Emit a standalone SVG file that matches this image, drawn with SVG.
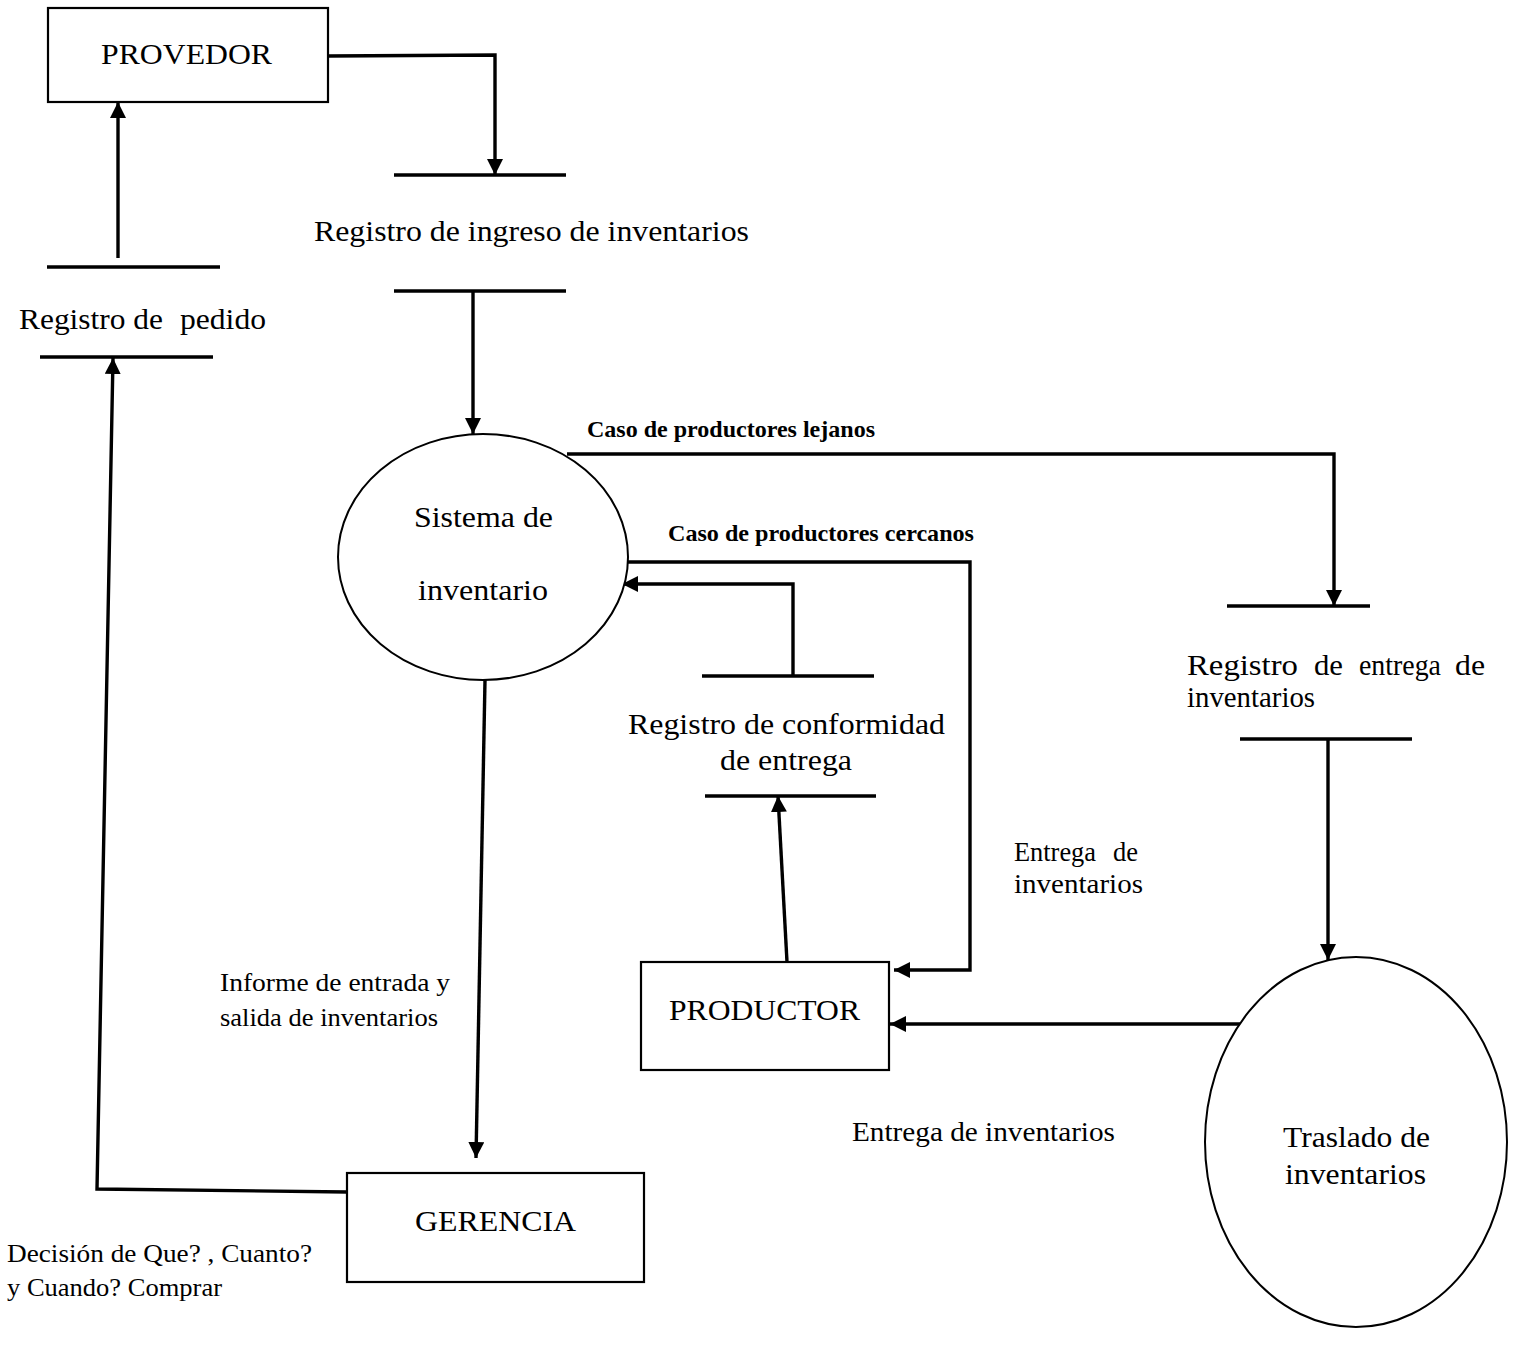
<svg xmlns="http://www.w3.org/2000/svg" width="1516" height="1357" viewBox="0 0 1516 1357">
  <style>
    .box { fill: #fff; stroke: #000; stroke-width: 2.2; }
    .proc { fill: #fff; stroke: #000; stroke-width: 2; }
    .store { stroke: #000; stroke-width: 3.6; fill: none; }
    .flow { stroke: #000; stroke-width: 3.4; fill: none; marker-end: url(#arrow); }
    .lbl { font-size: 29px; }
    .sm { font-size: 26px; }
    .md { font-size: 27px; }
    .bold { font-size: 24px; font-weight: bold; }
  </style>
  <defs>
    <marker id="arrow" markerUnits="userSpaceOnUse" markerWidth="18" markerHeight="18" refX="16" refY="8" orient="auto">
      <path d="M0,0 L16,8 L0,16 Z" fill="#000"/>
    </marker>
  </defs>
  <rect width="1516" height="1357" fill="#fff"/>

  <!-- data flows -->
  <g id="connectors">
    <path class="flow" d="M328,56 L495,55 L495,175"/>
    <path class="flow" d="M473,291 L473,434"/>
    <path class="flow" d="M567,454 L1334,454 L1334,606"/>
    <path class="flow" d="M1328,739 L1328,960"/>
    <path class="flow" d="M1243,1024 L890,1024"/>
    <path class="flow" d="M628,562 L970,562 L970,970 L894,970"/>
    <path class="flow" d="M793,676 L793,584 L622,584"/>
    <path class="flow" d="M787,962 L778,796"/>
    <path class="flow" d="M485,680 L476,1158"/>
    <path class="flow" d="M347,1192 L97,1189 L113,358"/>
    <path class="flow" d="M118,258 L118,102"/>
  </g>

  <g font-family="Liberation Serif, Times New Roman, serif" fill="#000">
    <!-- flow labels -->
    <g id="flow-labels">
      <text class="bold" x="587" y="437" textLength="288" lengthAdjust="spacingAndGlyphs">Caso de productores lejanos</text>
      <text class="bold" x="668" y="541" textLength="306" lengthAdjust="spacingAndGlyphs">Caso de productores cercanos</text>
      <text class="md" x="1014" y="861" textLength="82" lengthAdjust="spacingAndGlyphs">Entrega</text>
      <text class="md" x="1113" y="861" textLength="25" lengthAdjust="spacingAndGlyphs">de</text>
      <text class="md" x="1014" y="893" textLength="129" lengthAdjust="spacingAndGlyphs">inventarios</text>
      <text class="sm" x="220" y="991" textLength="230" lengthAdjust="spacingAndGlyphs">Informe de entrada y</text>
      <text class="sm" x="220" y="1026" textLength="218" lengthAdjust="spacingAndGlyphs">salida de inventarios</text>
      <text class="md" x="852" y="1141" textLength="263" lengthAdjust="spacingAndGlyphs">Entrega de inventarios</text>
      <text class="sm" x="7" y="1262" textLength="305" lengthAdjust="spacingAndGlyphs">Decisión de Que? , Cuanto?</text>
      <text class="sm" x="7" y="1296" textLength="215" lengthAdjust="spacingAndGlyphs">y Cuando? Comprar</text>
    </g>

    <!-- external entities -->
    <g id="provedor">
      <rect class="box" x="48" y="8" width="280" height="94"/>
      <text class="lbl" x="101" y="64" textLength="171" lengthAdjust="spacingAndGlyphs">PROVEDOR</text>
    </g>
    <g id="productor">
      <rect class="box" x="641" y="962" width="248" height="108"/>
      <text class="lbl" x="669" y="1020" textLength="191" lengthAdjust="spacingAndGlyphs">PRODUCTOR</text>
    </g>
    <g id="gerencia">
      <rect class="box" x="347" y="1173" width="297" height="109"/>
      <text class="lbl" x="415" y="1231" textLength="161" lengthAdjust="spacingAndGlyphs">GERENCIA</text>
    </g>

    <!-- processes -->
    <g id="sistema-inventario">
      <ellipse class="proc" cx="483" cy="557" rx="145" ry="123"/>
      <text class="lbl" x="414" y="527" textLength="139" lengthAdjust="spacingAndGlyphs">Sistema de</text>
      <text class="lbl" x="418" y="600" textLength="130" lengthAdjust="spacingAndGlyphs">inventario</text>
    </g>
    <g id="traslado-inventarios">
      <ellipse class="proc" cx="1356" cy="1142" rx="151" ry="185"/>
      <text class="lbl" x="1283" y="1147" textLength="147" lengthAdjust="spacingAndGlyphs">Traslado de</text>
      <text class="lbl" x="1285" y="1184" textLength="141" lengthAdjust="spacingAndGlyphs">inventarios</text>
    </g>

    <!-- data stores -->
    <g id="registro-ingreso">
      <line class="store" x1="394" y1="175" x2="566" y2="175"/>
      <line class="store" x1="394" y1="291" x2="566" y2="291"/>
      <text class="lbl" x="314" y="241" textLength="435" lengthAdjust="spacingAndGlyphs">Registro de ingreso de inventarios</text>
    </g>
    <g id="registro-pedido">
      <line class="store" x1="47" y1="267" x2="220" y2="267"/>
      <line class="store" x1="40" y1="357" x2="213" y2="357"/>
      <text class="lbl" x="19" y="329" textLength="144" lengthAdjust="spacingAndGlyphs">Registro de</text>
      <text class="lbl" x="180" y="329" textLength="86" lengthAdjust="spacingAndGlyphs">pedido</text>
    </g>
    <g id="registro-conformidad">
      <line class="store" x1="702" y1="676" x2="874" y2="676"/>
      <line class="store" x1="705" y1="796" x2="876" y2="796"/>
      <text class="lbl" x="628" y="734" textLength="317" lengthAdjust="spacingAndGlyphs">Registro de conformidad</text>
      <text class="lbl" x="720" y="770" textLength="132" lengthAdjust="spacingAndGlyphs">de entrega</text>
    </g>
    <g id="registro-entrega">
      <line class="store" x1="1227" y1="606" x2="1370" y2="606"/>
      <line class="store" x1="1240" y1="739" x2="1412" y2="739"/>
      <text class="lbl" x="1187" y="675" textLength="111" lengthAdjust="spacingAndGlyphs">Registro</text>
      <text class="lbl" x="1314" y="675" textLength="29" lengthAdjust="spacingAndGlyphs">de</text>
      <text class="lbl" x="1359" y="675" textLength="82" lengthAdjust="spacingAndGlyphs">entrega</text>
      <text class="lbl" x="1455" y="675" textLength="30" lengthAdjust="spacingAndGlyphs">de</text>
      <text class="lbl" x="1187" y="707" textLength="128" lengthAdjust="spacingAndGlyphs">inventarios</text>
    </g>
  </g>
</svg>
